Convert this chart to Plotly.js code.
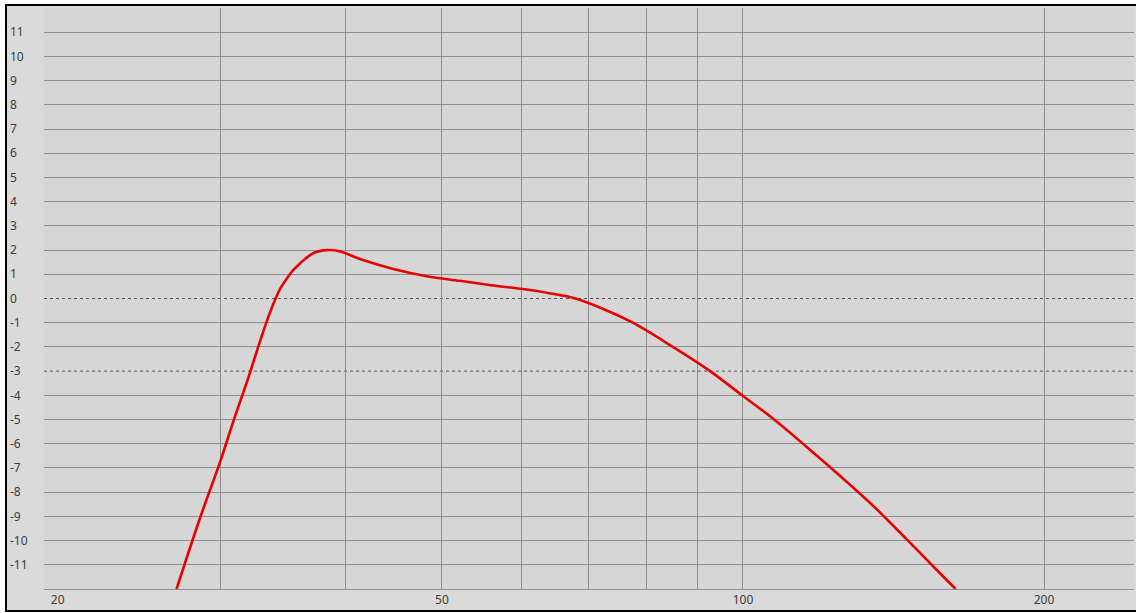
<!DOCTYPE html>
<html>
<head>
<meta charset="utf-8">
<script src="https://cdn.plot.ly/plotly-3.0.1.min.js"></script>
<style>
  html, body { margin: 0; padding: 0; background: #ffffff; width: 1136px; height: 613px; overflow: hidden; }
  #frame { position: absolute; left: 5px; top: 4px; width: 1140px; height: 604px; border: 2px solid #000; background: #dadada; }
  #chart { position: absolute; left: 0; top: 0; width: 1136px; height: 613px; }
</style>
</head>
<body>
<div id="frame"></div>
<div id="chart"></div>
<script>
// Frequency (Hz) and level (dB)
const freqHz = [27.14, 28.6, 30.0, 31.0, 32.0, 32.9, 33.5, 34.05, 34.5, 34.97, 35.5, 36.06, 37.2, 38.4, 39.5, 41.4, 44.7, 48.3, 52.1, 56.0, 60.2, 64.0, 68.0, 72.0, 77.6, 85.1, 92.7, 99.8, 107.2, 115.8, 125, 135, 145.8, 157.4, 163.2];
const levelDb = [-12.0, -9.15, -6.75, -4.95, -3.3, -1.75, -0.8, -0.05, 0.45, 0.82, 1.17, 1.45, 1.88, 2.0, 1.95, 1.63, 1.22, 0.92, 0.73, 0.55, 0.39, 0.22, 0.0, -0.38, -1.0, -2.0, -3.0, -4.0, -4.97, -6.13, -7.32, -8.57, -9.95, -11.35, -12.0];

// Axis ticks
const xGridVals = [20, 30, 40, 50, 60, 70, 80, 90, 100, 200];
const xGridText = ['\u2007\u2007\u2007\u200720', '', '', '50', '', '', '', '', '100', '200'];
const yLabelVals = [11, 10, 9, 8, 7, 6, 5, 4, 3, 2, 1, 0, -1, -2, -3, -4, -5, -6, -7, -8, -9, -10, -11];
const yLabelText = yLabelVals.map(v => String(v));
const yDottedVals = [0, -3];
const ySolidVals = yLabelVals.filter(v => !yDottedVals.includes(v));

const gridColor = '#8e8e8e';
const fontSpec = { family: 'Noto Sans, Open Sans, sans-serif', size: 12, color: '#3c3c3c' };

const trace = {
  x: freqHz, y: levelDb, type: 'scatter', mode: 'lines',
  line: { color: 'rgb(232,0,0)', width: 2.6, shape: 'spline', smoothing: 1 },
  hoverinfo: 'x+y', showlegend: false
};

const shapes = yDottedVals.map(v => ({
  type: 'line', xref: 'x domain', yref: 'y', x0: 0, x1: 1, y0: v, y1: v,
  line: { color: '#555555', width: 1, dash: '3px,3px' }, layer: 'below'
}));

const layout = {
  width: 1136, height: 613,
  margin: { l: 0, r: 2, t: 8, b: 24 },
  paper_bgcolor: 'rgba(0,0,0,0)',
  plot_bgcolor: '#d6d6d6',
  font: fontSpec,
  xaxis: {
    type: 'log', domain: [44 / 1134, 1],
    range: [Math.log10(20), Math.log10(20) + 1.09],
    tickmode: 'array', tickvals: xGridVals, ticktext: xGridText,
    showgrid: true, gridcolor: gridColor, gridwidth: 1,
    zeroline: false, showline: true, linecolor: gridColor, linewidth: 1,
    ticks: '', tickfont: fontSpec, ticklabelstandoff: 0,
    fixedrange: true
  },
  yaxis: {
    range: [-12, 12],
    tickmode: 'array', tickvals: ySolidVals,
    showticklabels: false, showgrid: true, gridcolor: gridColor, gridwidth: 1,
    zeroline: false, showline: false, ticks: '', fixedrange: true
  },
  yaxis2: {
    overlaying: 'y', anchor: 'free', position: 0, side: 'right',
    range: [-12, 12],
    tickmode: 'array', tickvals: yLabelVals, ticktext: yLabelText,
    showgrid: false, zeroline: false, showline: false, ticks: '',
    tickfont: fontSpec, ticklabelstandoff: 9, fixedrange: true
  },
  shapes: shapes
};

const labelTrace = { x: [20], y: [0], yaxis: 'y2', type: 'scatter', mode: 'none', showlegend: false, hoverinfo: 'skip' };

Plotly.newPlot('chart', [trace, labelTrace], layout, { displayModeBar: false, staticPlot: true });
</script>
</body>
</html>
